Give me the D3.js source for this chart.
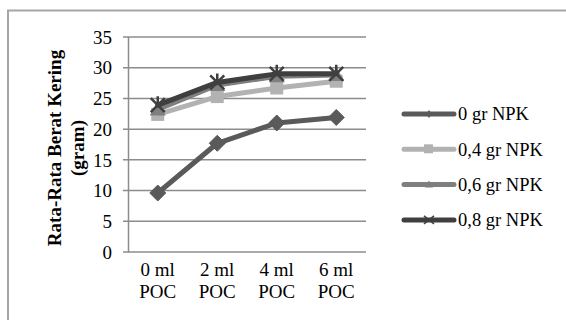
<!DOCTYPE html>
<html><head><meta charset="utf-8">
<script src="https://cdn.jsdelivr.net/npm/d3@7"></script>
<style>html,body{margin:0;padding:0;background:#fff;}svg{display:block;}</style>
</head><body>
<script>
const categories = [["0 ml","POC"],["2 ml","POC"],["4 ml","POC"],["6 ml","POC"]];
const seriesNames = ["0 gr NPK","0,4 gr NPK","0,6 gr NPK","0,8 gr NPK"];
const s0 = [9.6, 17.7, 21.0, 21.9];
const s04 = [22.4, 25.3, 26.7, 27.8];
const s06 = [23.2, 27.2, 28.6, 28.8];
const s08 = [23.9, 27.6, 29.0, 29.0];
const yTicks = [0,5,10,15,20,25,30,35];
const yTitle = ["Rata-Rata Berat Kering","(gram)"];

const W=566,H=320;
const svg=d3.select("body").append("svg").attr("width",W).attr("height",H);
const font="'Liberation Serif','Times New Roman',serif";

// frame
svg.append("path").attr("d","M8,322V10.5H570").attr("fill","none").attr("stroke","#a6a6a6").attr("stroke-width",2);

const x=d3.scaleBand().domain(d3.range(categories.length)).range([128,366]);
const y=d3.scaleLinear().domain([0,35]).range([252,37]);

// grid
svg.append("g").selectAll("line").data(yTicks).join("line")
 .attr("x1",123).attr("x2",366).attr("y1",d=>y(d)).attr("y2",d=>y(d))
 .attr("stroke","#8c8c8c").attr("stroke-width",1.5);
svg.append("line").attr("x1",128.5).attr("x2",128.5).attr("y1",y(35)).attr("y2",y(0)+0.5)
 .attr("stroke","#8c8c8c").attr("stroke-width",1.5);

// y tick labels
svg.append("g").selectAll("text").data(yTicks).join("text")
 .attr("x",112).attr("y",d=>y(d)).attr("dy","0.35em").attr("text-anchor","end")
 .attr("font-family",font).attr("font-size",19).attr("fill","#000").text(d=>d);

// x labels
const xl=svg.append("g").selectAll("text").data(categories).join("text")
 .attr("x",(d,i)=>x(i)+x.bandwidth()/2).attr("y",276).attr("text-anchor","middle")
 .attr("font-family",font).attr("font-size",19).attr("fill","#000");
xl.append("tspan").attr("x",(d,i)=>x(i)+x.bandwidth()/2).attr("dy",0).text(d=>d[0]);
xl.append("tspan").attr("x",(d,i)=>x(i)+x.bandwidth()/2).attr("dy",22).text(d=>d[1]);

// y title
const yt=svg.append("text").attr("transform","translate(61,148) rotate(-90)")
 .attr("text-anchor","middle").attr("font-family",font).attr("font-size",19)
 .attr("font-weight","bold").attr("fill","#000");
yt.append("tspan").attr("x",0).attr("dy",0).text(yTitle[0]);
yt.append("tspan").attr("x",0).attr("dy",23).text(yTitle[1]);

const series=[
 {name:seriesNames[0],values:s0,color:"#5a5a5a",marker:"diamond"},
 {name:seriesNames[1],values:s04,color:"#b2b2b2",marker:"square"},
 {name:seriesNames[2],values:s06,color:"#7f7f7f",marker:"triangle"},
 {name:seriesNames[3],values:s08,color:"#3f3f3f",marker:"x"}
];
const cx=i=>x(i)+x.bandwidth()/2;
const line=d3.line().x((d,i)=>cx(i)).y(d=>y(d));

function marker(g,type,color,px,py){
  if(type==="diamond"){
    g.append("path").attr("d",`M${px},${py-8}L${px+8},${py}L${px},${py+8}L${px-8},${py}Z`).attr("fill",color).attr("stroke",color);
  }else if(type==="square"){
    g.append("rect").attr("x",px-6.5).attr("y",py-6.5).attr("width",13).attr("height",13).attr("fill",color);
  }else if(type==="triangle"){
    g.append("path").attr("d",`M${px},${py-8}L${px+8},${py+6}L${px-8},${py+6}Z`).attr("fill",color);
  }else{
    g.append("path").attr("d",`M${px-7},${py-7}L${px+7},${py+7}M${px+7},${py-7}L${px-7},${py+7}M${px},${py-9}L${px},${py-1}`)
     .attr("stroke",color).attr("stroke-width",2.5).attr("fill","none");
  }
}

series.forEach(s=>{
  const g=svg.append("g");
  g.append("path").datum(s.values).attr("d",line).attr("fill","none")
   .attr("stroke",s.color).attr("stroke-width",5).attr("stroke-linejoin","round").attr("stroke-linecap","round");
  s.values.forEach((v,i)=>marker(g,s.marker,s.color,cx(i),y(v)));
});

// legend
const leg=svg.append("g");
series.forEach((s,i)=>{
  const ly=114+i*35.3;
  leg.append("line").attr("x1",404).attr("x2",454).attr("y1",ly).attr("y2",ly)
   .attr("stroke",s.color).attr("stroke-width",5).attr("stroke-linecap","round");
  if(s.marker==="square") leg.append("rect").attr("x",424).attr("y",ly-5).attr("width",9).attr("height",9).attr("fill",s.color);
  else if(s.marker==="diamond") leg.append("path").attr("d",`M429,${ly-4}L432,${ly}L429,${ly+4}L426,${ly}Z`).attr("fill",s.color);
  else if(s.marker==="triangle") leg.append("path").attr("d",`M429,${ly-4}L433,${ly+3}L425,${ly+3}Z`).attr("fill",s.color);
  else leg.append("path").attr("d",`M424,${ly-4}L434,${ly+4}M434,${ly-4}L424,${ly+4}`).attr("stroke",s.color).attr("stroke-width",1.5);
  leg.append("text").attr("x",458).attr("y",ly).attr("dy","0.35em")
   .attr("font-family",font).attr("font-size",18.5).attr("fill","#000").text(s.name);
});
</script>
</body></html>
